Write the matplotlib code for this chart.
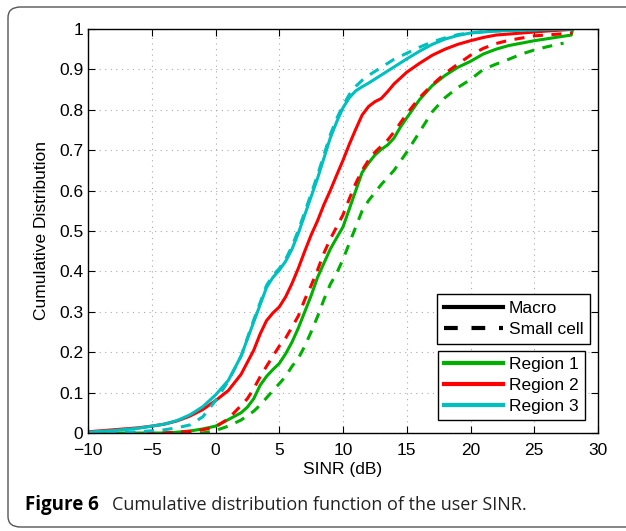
import numpy as np
import matplotlib
matplotlib.use('Agg')
import matplotlib.pyplot as plt
from matplotlib.patches import FancyBboxPatch
from matplotlib.lines import Line2D

plt.rcParams['font.family'] = ['Liberation Sans', 'DejaVu Sans']

# SINR (dB) points and CDF values, one pair per curve
r1_macro_x = [-10, -4, -3, -2, -1, 0, 1, 2, 2.5, 3, 3.5, 4, 4.5, 5, 5.5, 6, 6.5, 7, 7.5, 8,
              8.5, 9, 9.5, 10, 10.5, 11, 11.5, 12, 12.5, 13, 13.5, 14, 14.5, 15, 16, 17,
              18, 19, 20, 21, 22, 23, 25, 27.9, 28]
r1_macro_y = [0, 0, 0.002, 0.005, 0.01, 0.017, 0.033, 0.05, 0.064, 0.085, 0.118, 0.14,
              0.157, 0.172, 0.196, 0.225, 0.26, 0.3, 0.34, 0.385, 0.42, 0.455, 0.483, 0.51,
              0.555, 0.6, 0.645, 0.668, 0.688, 0.702, 0.713, 0.73, 0.757, 0.78, 0.825,
              0.86, 0.885, 0.905, 0.92, 0.938, 0.95, 0.959, 0.971, 0.985, 0.998]

r1_small_x = [-10, -1, 0, 1, 2, 3, 3.5, 4, 4.5, 5, 5.5, 6, 6.5, 7, 7.5, 8, 8.5, 9, 9.5,
              10, 10.5, 11, 11.5, 12, 13, 14, 15, 16, 17, 18, 19, 20, 21, 22, 23, 24, 25,
              26, 27.3]
r1_small_y = [0, 0, 0.006, 0.017, 0.032, 0.054, 0.069, 0.087, 0.105, 0.122, 0.14, 0.165,
              0.185, 0.215, 0.25, 0.288, 0.33, 0.368, 0.395, 0.43, 0.47, 0.51, 0.55, 0.575,
              0.615, 0.65, 0.695, 0.745, 0.795, 0.83, 0.855, 0.875, 0.9, 0.913, 0.925,
              0.938, 0.948, 0.956, 0.965]

r2_macro_x = [-10, -8, -6, -5, -4, -3, -2, -1, 0, 1, 2, 3, 3.5, 4, 4.5, 5, 5.5, 6, 6.5, 7,
              7.5, 8, 8.5, 9, 9.5, 10, 10.5, 11, 11.5, 12, 12.5, 13, 13.5, 14, 15, 16, 17,
              18, 19, 20, 21, 22, 24, 26, 28]
r2_macro_y = [0.003, 0.008, 0.013, 0.017, 0.022, 0.03, 0.042, 0.058, 0.08, 0.105, 0.145,
              0.205, 0.245, 0.278, 0.297, 0.312, 0.337, 0.37, 0.408, 0.45, 0.49, 0.525,
              0.565, 0.6, 0.638, 0.675, 0.715, 0.752, 0.787, 0.808, 0.82, 0.828, 0.845,
              0.864, 0.893, 0.915, 0.935, 0.95, 0.962, 0.971, 0.979, 0.985, 0.99, 0.995,
              0.999]

r2_small_x = [-10, -4, -3, -2, -1, 0, 1, 2, 2.5, 3, 3.5, 4, 4.5, 5, 5.5, 6, 6.5, 7, 7.5, 8,
              8.5, 9, 9.5, 10, 10.5, 11, 11.5, 12, 12.5, 13, 13.5, 14, 15, 16, 17, 18, 19,
              20, 21, 22, 23, 25, 28]
r2_small_y = [0, 0, 0.002, 0.004, 0.008, 0.015, 0.035, 0.068, 0.085, 0.11, 0.139, 0.165,
              0.19, 0.215, 0.235, 0.262, 0.29, 0.33, 0.365, 0.403, 0.445, 0.48, 0.51, 0.54,
              0.58, 0.618, 0.65, 0.675, 0.695, 0.71, 0.725, 0.745, 0.79, 0.83, 0.862, 0.89,
              0.913, 0.935, 0.952, 0.964, 0.972, 0.983, 0.99]

r3_macro_x = [-10, -8, -6, -4, -3, -2, -1, 0, 1, 2, 3, 4, 4.5, 5, 5.5, 6, 6.5, 7, 7.5, 8,
              8.5, 9, 9.5, 10, 10.5, 11, 11.5, 12, 13, 14, 15, 16, 17, 18, 19, 20, 22, 25,
              28]
r3_macro_y = [0.002, 0.006, 0.012, 0.022, 0.031, 0.045, 0.065, 0.094, 0.13, 0.19, 0.275,
              0.36, 0.385, 0.403, 0.425, 0.455, 0.495, 0.54, 0.585, 0.63, 0.68, 0.73, 0.77,
              0.805, 0.83, 0.847, 0.857, 0.866, 0.886, 0.906, 0.926, 0.945, 0.962, 0.975,
              0.984, 0.99, 0.995, 0.998, 1.0]

r3_small_x = [-10, -6, -4, -3, -2, -1, 0, 1, 2, 3, 4, 4.5, 5, 5.5, 6, 6.5, 7, 7.5, 8, 8.5,
              9, 9.5, 10, 10.5, 11, 11.5, 12, 13, 14, 15, 16, 17, 18, 19, 20, 22, 25, 28]
r3_small_y = [0, 0.003, 0.008, 0.013, 0.02, 0.04, 0.08, 0.128, 0.19, 0.28, 0.365, 0.39,
              0.407, 0.43, 0.462, 0.502, 0.547, 0.592, 0.638, 0.688, 0.738, 0.778, 0.81,
              0.838, 0.858, 0.873, 0.885, 0.905, 0.925, 0.94, 0.955, 0.968, 0.978, 0.986,
              0.991, 0.995, 0.998, 1.0]

region_names = ['Region 1', 'Region 2', 'Region 3']
region_colors = ['#00b000', '#ff0000', '#00bfbf']

fig = plt.figure(figsize=(6.26, 5.31), dpi=100)

# caption frame
frame = FancyBboxPatch((8 / 626, 4 / 531), 640 / 626, 520 / 531,
                       boxstyle='round,pad=0,rounding_size=0.02',
                       transform=fig.transFigure, facecolor='none',
                       edgecolor='#555555', linewidth=1.0, zorder=-5)
fig.patches.append(frame)

ax = fig.add_axes([88 / 626, (531 - 433) / 531, 510 / 626, 404 / 531])

lw = 2.2
dash = (0, (3.3, 2.8))
curves = [(r1_macro_x, r1_macro_y, r1_small_x, r1_small_y),
          (r2_macro_x, r2_macro_y, r2_small_x, r2_small_y),
          (r3_macro_x, r3_macro_y, r3_small_x, r3_small_y)]
for (mx, my, sx, sy), col in zip(curves, region_colors):
    ax.plot(sx, sy, color=col, linewidth=lw, linestyle=dash)
    ax.plot(mx, my, color=col, linewidth=lw, linestyle='-')

ax.set_xlim(-10, 30)
ax.set_ylim(0, 1)
ax.set_xticks(np.arange(-10, 31, 5))
ax.set_yticks(np.arange(0, 1.01, 0.1))
ax.set_xticklabels(['\u221210', '\u22125', '0', '5', '10', '15', '20', '25', '30'])
ax.set_yticklabels(['0', '0.1', '0.2', '0.3', '0.4', '0.5', '0.6', '0.7', '0.8', '0.9', '1'])
ax.tick_params(direction='in', top=True, right=True, labelsize=12.5, length=5, width=0.8)
ax.tick_params(axis='x', pad=7)
ax.grid(True, linestyle=(0, (1, 4)), color='#aaaaaa', linewidth=0.8)
for sp in ax.spines.values():
    sp.set_linewidth(1.0)

ax.set_xlabel('SINR (dB)', fontsize=12.5, labelpad=3)
ax.set_ylabel('Cumulative Distribution', fontsize=12.5, labelpad=7)

# legends
type_handles = [Line2D([], [], color='black', linewidth=3, linestyle='-'),
                Line2D([], [], color='black', linewidth=3, linestyle=(0, (3.3, 3.3)))]
leg1 = ax.legend(type_handles, ['Macro', 'Small cell'], loc='upper left',
                 bbox_to_anchor=(0.684, 0.345), borderaxespad=0, fontsize=12.5,
                 handlelength=3.4, fancybox=False, framealpha=1, edgecolor='black',
                 labelspacing=0.35, borderpad=0.4, handletextpad=0.35)
leg1.get_frame().set_linewidth(1.0)
ax.add_artist(leg1)

reg_handles = [Line2D([], [], color=c, linewidth=3) for c in region_colors]
leg2 = ax.legend(reg_handles, region_names, loc='upper left',
                 bbox_to_anchor=(0.686, 0.203), borderaxespad=0, fontsize=12.5,
                 handlelength=3.4, fancybox=False, framealpha=1, edgecolor='black',
                 labelspacing=0.32, borderpad=0.35, handletextpad=0.35)
leg2.get_frame().set_linewidth(1.0)

# caption
fig.text(25 / 626, 1 - 505 / 531, 'Figure 6', fontsize=13.5, fontweight='bold',
         family='Open Sans', va='center', ha='left')
fig.text(112 / 626, 1 - 505 / 531, 'Cumulative distribution function of the user SINR.',
         fontsize=13, family='Open Sans', va='center', ha='left', color='#222222')

fig.savefig('out.png', dpi=100)
